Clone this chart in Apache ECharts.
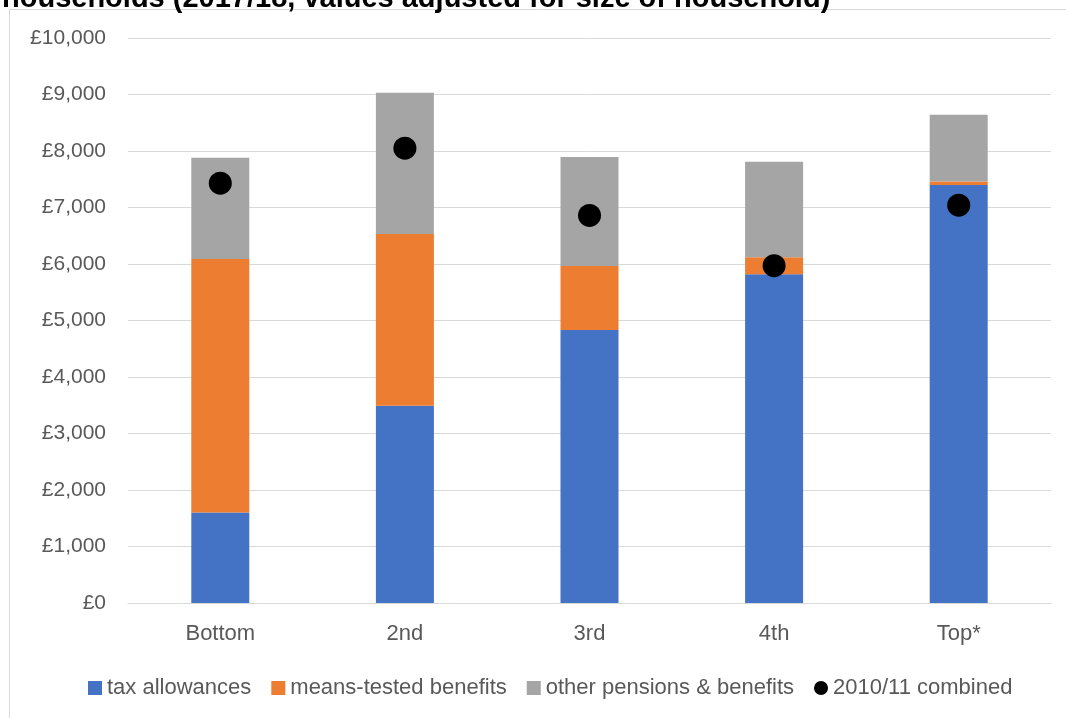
<!DOCTYPE html>
<html>
<head>
<meta charset="utf-8">
<script src="https://cdn.jsdelivr.net/npm/echarts@6/dist/echarts.min.js"></script>
<style>
html,body{margin:0;padding:0;background:#fff;}
#c{width:1066px;height:718px;}
</style>
</head>
<body>
<div id="c"></div>
<script>
var categories = ['Bottom', '2nd', '3rd', '4th', 'Top*'];
var taxAllowances = [1600, 3490, 4830, 5820, 7400];
var meansTested = [4490, 3040, 1135, 300, 60];
var otherPensions = [1790, 2500, 1930, 1690, 1180];
var combined2010 = [7430, 8050, 6860, 5970, 7040];
var yTicks = { min: 0, max: 10000, interval: 1000 };
var titleText = 'households (2017/18, values adjusted for size of household)';

var font = 'Liberation Sans, Arial, sans-serif';
var chart = echarts.init(document.getElementById('c'), null, { renderer: 'canvas' });
chart.setOption({
  animation: false,
  backgroundColor: '#fff',
  graphic: [
    { type: 'rect', shape: { x: 9.5, y: 9.5, width: 1100, height: 800 }, style: { fill: 'none', stroke: '#d9d9d9', lineWidth: 1 }, silent: true },
    { type: 'text', x: 2, y: 13, style: { text: titleText, font: 'bold 29px Liberation Sans, Arial, sans-serif', fill: '#000', verticalAlign: 'bottom' } }
  ],
  grid: { left: 128, right: 15, top: 38, bottom: 115, containLabel: false },
  legend: {
    bottom: 14,
    left: 83,
    itemWidth: 14,
    itemHeight: 14,
    itemGap: 20,
    textStyle: { color: '#595959', fontSize: 22, fontFamily: font },
    data: [
      { name: 'tax allowances', icon: 'rect' },
      { name: 'means-tested benefits', icon: 'rect' },
      { name: 'other pensions & benefits', icon: 'rect' },
      { name: '2010/11 combined', icon: 'circle' }
    ]
  },
  xAxis: {
    type: 'category',
    data: categories,
    axisLine: { lineStyle: { color: '#d9d9d9', width: 1 } },
    axisTick: { show: false },
    axisLabel: { color: '#595959', fontSize: 22, fontFamily: font, margin: 20 }
  },
  yAxis: {
    type: 'value',
    min: yTicks.min, max: yTicks.max, interval: yTicks.interval,
    axisLine: { show: false },
    axisTick: { show: false },
    splitLine: { lineStyle: { color: '#d9d9d9', width: 1 } },
    axisLabel: {
      color: '#595959', fontSize: 21, fontFamily: font, margin: 22,
      formatter: function (v) { return '£' + v.toLocaleString('en-GB'); }
    }
  },
  series: [
    { name: 'tax allowances', type: 'bar', stack: 's', data: taxAllowances, barWidth: 58, itemStyle: { color: '#4472c4' } },
    { name: 'means-tested benefits', type: 'bar', stack: 's', data: meansTested, barWidth: 58, itemStyle: { color: '#ed7d31' } },
    { name: 'other pensions & benefits', type: 'bar', stack: 's', data: otherPensions, barWidth: 58, itemStyle: { color: '#a5a5a5' } },
    { name: '2010/11 combined', type: 'scatter', data: combined2010, symbol: 'circle', symbolSize: 23, itemStyle: { color: '#000', opacity: 1 }, z: 5 }
  ]
});
</script>
</body>
</html>
